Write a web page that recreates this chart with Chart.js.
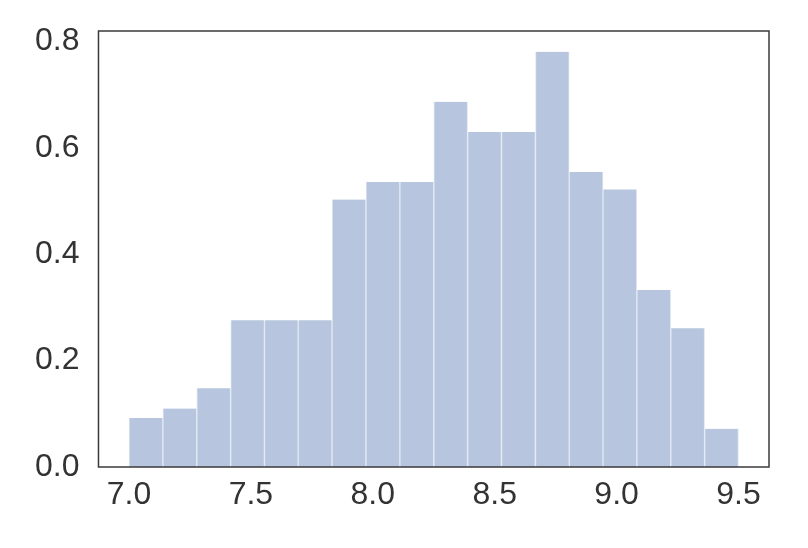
<!DOCTYPE html>
<html lang="en">
<head>
    <meta charset="UTF-8">
    <title>Histogram</title>
    <script src="https://cdn.jsdelivr.net/npm/chart.js"></script>
    <style>
        body { margin: 0; background: #fff; }
        #box { width: 808px; height: 548px; }
    </style>
</head>
<body>
    <div id="box">
        <canvas id="grafico" width="808" height="548"></canvas>
    </div>
<script>
    // bin edges (18 bins between 7.0 and 9.5)
    var bordas = [7.000, 7.139, 7.278, 7.417, 7.556, 7.694, 7.833, 7.972, 8.111, 8.250,
                  8.389, 8.528, 8.667, 8.806, 8.944, 9.083, 9.222, 9.361, 9.500];
    // density per bin
    var densidade = [0.092, 0.110, 0.148, 0.276, 0.276, 0.276, 0.503, 0.536, 0.536,
                     0.687, 0.630, 0.630, 0.781, 0.555, 0.522, 0.333, 0.261, 0.072];
    var ticksX = [7.0, 7.5, 8.0, 8.5, 9.0, 9.5];
    var ticksY = [0.0, 0.2, 0.4, 0.6, 0.8];

    var pontos = [];
    for (var i = 0; i < densidade.length; i++) {
        pontos.push({ x: (bordas[i] + bordas[i + 1]) / 2, y: densidade[i] });
    }

    // frame around the plot area
    const moldura = {
        id: 'moldura',
        afterDraw(chart) {
            const a = chart.chartArea;
            const ctx = chart.ctx;
            ctx.save();
            ctx.strokeStyle = '#3a3a3a';
            ctx.lineWidth = 1.5;
            ctx.strokeRect(a.left, a.top, a.right - a.left, a.bottom - a.top);
            ctx.restore();
        }
    };

    const fonteX = { family: '"Liberation Sans", Arial, sans-serif', size: 32, lineHeight: 1 };
    // smaller line height so the top label needs less room above the plot
    const fonteY = { family: '"Liberation Sans", Arial, sans-serif', size: 32, lineHeight: 0.75 };

    const chart = new Chart('grafico', {
        type: 'bar',
        data: {
            datasets: [{
                data: pontos,
                backgroundColor: 'rgb(183,198,222)',
                borderColor: 'rgba(226,232,242,1)',
                borderWidth: { left: 1, right: 1, top: 0, bottom: 0 },
                barPercentage: 1,
                categoryPercentage: 1
            }]
        },
        options: {
            responsive: false,
            animation: false,
            layout: { padding: { left: 16, right: 39, top: 15, bottom: 25 } },
            plugins: { legend: { display: false }, tooltip: { enabled: false } },
            scales: {
                x: {
                    type: 'linear',
                    min: 6.875,
                    max: 9.625,
                    offset: false,
                    grid: { display: false, drawTicks: false },
                    border: { display: false },
                    afterBuildTicks: function (s) { s.ticks = ticksX.map(v => ({ value: v })); },
                    ticks: {
                        padding: 12,
                        color: '#333',
                        font: fonteX,
                        maxRotation: 0,
                        autoSkip: false,
                        callback: v => v.toFixed(1)
                    }
                },
                y: {
                    min: 0,
                    max: 0.82,
                    grid: { display: false, drawTicks: false },
                    border: { display: false },
                    afterBuildTicks: function (s) { s.ticks = ticksY.map(v => ({ value: v })); },
                    ticks: {
                        padding: 19,
                        color: '#333',
                        font: fonteY,
                        autoSkip: false,
                        callback: v => v.toFixed(1)
                    }
                }
            }
        },
        plugins: [moldura]
    });
</script>
</body>
</html>
